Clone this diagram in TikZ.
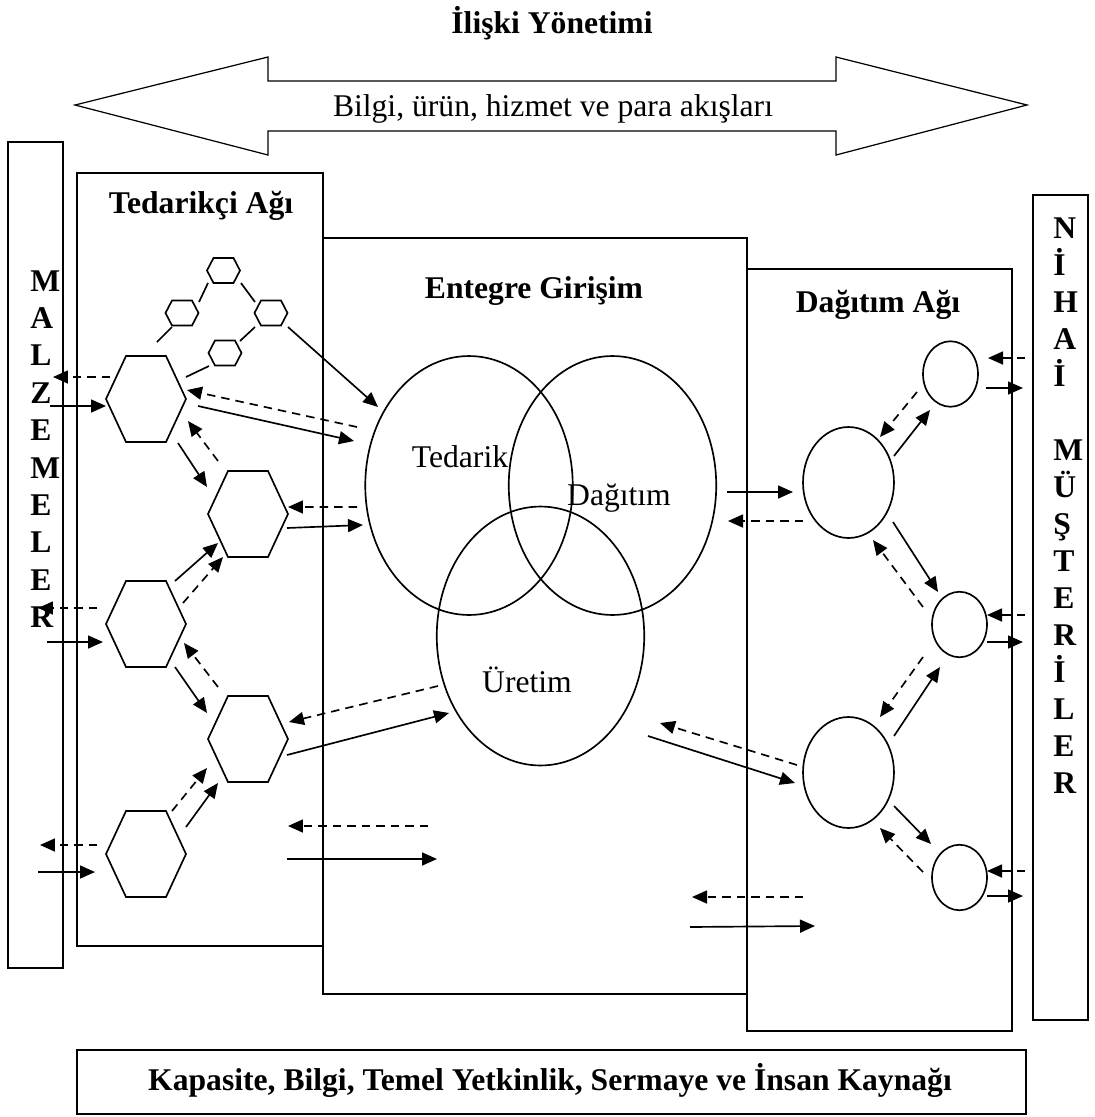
\documentclass[tikz,border=0pt]{standalone}
\usepackage{fontspec}
\setmainfont{Liberation Serif}
\usepackage{tikz}
\usetikzlibrary{arrows.meta,calc,shapes.geometric}

\newcommand{\bigfont}{\fontsize{18}{21}\selectfont}
% hexagon: centre, half width, half top edge, half height
\newcommand{\hexa}[4]{%
  \draw[link,shift={(#1)}] (-#2,0) -- (-#3,-#4) -- (#3,-#4) -- (#2,0) -- (#3,#4) -- (-#3,#4) -- cycle;}

\begin{document}
\begin{tikzpicture}[x=0.02cm,y=-0.02cm,
  box/.style={line width=1.2pt},
  link/.style={line width=0.95pt},
  flow/.style={-{Triangle[length=0.3cm,width=0.26cm]},line width=0.95pt},
  back/.style={flow,dash pattern=on 0.17cm off 0.12cm},
  venn/.style={ellipse,draw,line width=0.95pt,inner sep=0pt,minimum width=4.15cm,minimum height=5.18cm},
  sdot/.style={ellipse,draw,line width=0.95pt,inner sep=0pt,minimum width=1.1cm,minimum height=1.31cm},
  bdot/.style={sdot,minimum width=1.82cm,minimum height=2.22cm},
  hdr/.style={font=\bigfont\bfseries,inner sep=0pt,anchor=base},
  lbl/.style={font=\bigfont,inner sep=0pt,anchor=base},
  vlet/.style={font=\bigfont\bfseries,inner sep=0pt,anchor=base west}]

	\useasboundingbox (0,0) rectangle (1095,1117);

	% top: relation management and flows
	\node[hdr] (rel) at (552,33) {İlişki Yönetimi};
	\draw[line width=0.7pt] (75,105) -- (268,57) -- (268,81) -- (836,81) -- (836,57) -- (1027,105)
		-- (836,155) -- (836,131) -- (268,131) -- (268,155) -- cycle;
	\node[lbl] (flows) at (553,116) {Bilgi, ürün, hizmet ve para akışları};

	% frames
	\draw[box] (8,142) rectangle (63,968);
	\draw[box] (77,173) rectangle (323,946);
	\draw[box] (323,238) rectangle (747,994);
	\draw[box] (747,269) rectangle (1012,1031);
	\draw[box] (1033,195) rectangle (1088,1020);
	\draw[box] (77,1050) rectangle (1026,1114);

	\node[hdr] (tedag) at (201,213) {Tedarikçi Ağı};
	\node[hdr] (ent) at (534,298) {Entegre Girişim};
	\node[hdr] (dagag) at (878,312) {Dağıtım Ağı};
	\node[hdr] (kap) at (550,1090) {Kapasite, Bilgi, Temel Yetkinlik, Sermaye ve İnsan Kaynağı};

	\foreach \ch [count=\i from 0] in {M,A,L,Z,E,M,E,L,E,R}
		\node[vlet] (mz\i) at (30,{291+37.4*\i}) {\ch};
	\foreach \i/\ch in {0/N,1/İ,2/H,3/A,4/İ,6/M,7/Ü,8/Ş,9/T,10/E,11/R,12/İ,13/L,14/E,15/R}
		\node[vlet] (nm\i) at (1053,{238+37*\i}) {\ch};

	% supplier network
	\coordinate (h1) at (146,399);
	\coordinate (h2) at (248,514);
	\coordinate (h3) at (146,624);
	\coordinate (h4) at (248,739);
	\coordinate (h5) at (146,854);
	\foreach \n in {h1,h2,h3,h4,h5}
		{\hexa{\n}{40}{20}{43}}
	\coordinate (s1) at (223.5,270.5);
	\coordinate (s2) at (182,313);
	\coordinate (s3) at (271,313);
	\coordinate (s4) at (225,353);
	\foreach \n in {s1,s2,s3,s4}
		{\hexa{\n}{16.5}{10}{12.5}}

	\draw[link] ($(s1)+(-15.5,12.5)$) -- ($(s2)+(17,-11)$);
	\draw[link] ($(s1)+(17.5,12.5)$) -- ($(s3)+(-16,-11)$);
	\draw[link] ($(s2)+(-10,14)$) -- ($(s2)+(-25,29)$);
	\draw[link] ($(s3)+(-16,14)$) -- ($(s4)+(15,-12)$);
	\draw[link] ($(s4)+(-16,13)$) -- ($(h1)+(40,-22)$);

	% integrated enterprise
	\node[venn] (ted) at (469,485.5) {};
	\node[venn] (dag) at (612.5,485.5) {};
	\node[venn] (ure) at (540.5,636) {};
	\node[lbl] (tedl) at (460,467) {Tedarik};
	\node[lbl] (dagl) at (619,505) {Dağıtım};
	\node[lbl] (urel) at (527,692) {Üretim};

	% distribution network
	\node[sdot] (c1) at (950.5,374) {};
	\node[bdot] (c2) at (848.5,482.5) {};
	\node[sdot] (c3) at (959.5,624.5) {};
	\node[bdot] (c4) at (848.5,772.5) {};
	\node[sdot] (c5) at (959.5,877.5) {};

	% materials <-> suppliers
	\draw[back] ($(h1)+(-36,-22)$) -- ($(h1)+(-93,-22)$);
	\draw[flow] ($(h1)+(-96,7)$) -- ($(h1)+(-40,7)$);
	\draw[back] ($(h3)+(-49,-16)$) -- ($(h3)+(-108,-16)$);
	\draw[flow] ($(h3)+(-99,18)$) -- ($(h3)+(-43,18)$);
	\draw[back] ($(h5)+(-49,-9)$) -- ($(h5)+(-106,-9)$);
	\draw[flow] ($(h5)+(-108,18)$) -- ($(h5)+(-51,18)$);

	% inside the supplier network
	\draw[flow] ($(h1)+(32,44)$) -- ($(h2)+(-41,-27)$);
	\draw[back] ($(h2)+(-30,-53)$) -- ($(h1)+(42,22)$);
	\draw[flow] ($(h3)+(29,-43)$) -- ($(h2)+(-30,29)$);
	\draw[back] ($(h3)+(37,-21)$) -- ($(h2)+(-25,43)$);
	\draw[flow] ($(h3)+(29,43)$) -- ($(h4)+(-41,-26)$);
	\draw[back] ($(h4)+(-30,-52)$) -- ($(h3)+(38,19)$);
	\draw[back] ($(h5)+(26,-43)$) -- ($(h4)+(-41,29)$);
	\draw[flow] ($(h5)+(40,-27)$) -- ($(h4)+(-30,44)$);

	% suppliers <-> enterprise
	\draw[flow] ($(s3)+(17,14)$) -- ($(ted)+(-91,-78.5)$);
	\draw[back] ($(ted)+(-112,-58.5)$) -- ($(h1)+(41,-9)$);
	\draw[flow] ($(h1)+(52,7)$) -- ($(ted)+(-115,-44.5)$);
	\draw[back] ($(ted)+(-112,21.5)$) -- ($(h2)+(40,-7)$);
	\draw[flow] ($(h2)+(39,14)$) -- ($(ted)+(-106,39.5)$);
	\draw[back] ($(ure)+(-102.5,50)$) -- ($(h4)+(41,-17)$);
	\draw[flow] ($(h4)+(39,16)$) -- ($(ure)+(-91.5,77)$);

	% enterprise <-> distributors
	\draw[flow] ($(dag)+(114.5,6.5)$) -- ($(c2)+(-55.5,9.5)$);
	\draw[back] ($(c2)+(-45.5,38.5)$) -- ($(dag)+(115.5,35.5)$);
	\draw[flow] ($(ure)+(107.5,100)$) -- ($(c4)+(-53.5,10.5)$);
	\draw[back] ($(c4)+(-51.5,-7.5)$) -- ($(ure)+(119.5,87)$);

	% inside the distribution network
	\draw[back] ($(c1)+(-33.5,18)$) -- ($(c2)+(31.5,-45.5)$);
	\draw[flow] ($(c2)+(45.5,-26.5)$) -- ($(c1)+(-20.5,36)$);
	\draw[flow] ($(c2)+(44.5,39.5)$) -- ($(c3)+(-21.5,-32.5)$);
	\draw[back] ($(c3)+(-36.5,-17.5)$) -- ($(c2)+(24.5,57.5)$);
	\draw[back] ($(c3)+(-36.5,32.5)$) -- ($(c4)+(31.5,-55.5)$);
	\draw[flow] ($(c4)+(45.5,-36.5)$) -- ($(c3)+(-19.5,42.5)$);
	\draw[flow] ($(c4)+(45.5,33.5)$) -- ($(c5)+(-28.5,-33.5)$);
	\draw[back] ($(c5)+(-36.5,-5.5)$) -- ($(c4)+(31.5,55.5)$);

	% distributors <-> end customers
	\draw[back] ($(c1)+(74.5,-16)$) -- ($(c1)+(37.5,-16)$);
	\draw[flow] ($(c1)+(35.5,14)$) -- ($(c1)+(72.5,14)$);
	\draw[back] ($(c3)+(65.5,-9.5)$) -- ($(c3)+(27.5,-9.5)$);
	\draw[flow] ($(c3)+(27.5,17.5)$) -- ($(c3)+(63.5,17.5)$);
	\draw[back] ($(c5)+(65.5,-6.5)$) -- ($(c5)+(27.5,-6.5)$);
	\draw[flow] ($(c5)+(27.5,18.5)$) -- ($(c5)+(63.5,18.5)$);

	% loose flow pairs
	\coordinate (la) at (428,826);
	\coordinate (lb) at (288,826);
	\coordinate (lc) at (287,859);
	\coordinate (ld) at (437,859);
	\coordinate (ra) at (803,897);
	\coordinate (rb) at (692,897);
	\coordinate (rc) at (690,927);
	\coordinate (rd) at (815,926);
	\draw[back] (la) -- (lb);
	\draw[flow] (lc) -- (ld);
	\draw[back] (ra) -- (rb);
	\draw[flow] (rc) -- (rd);

\end{tikzpicture}
\end{document}
